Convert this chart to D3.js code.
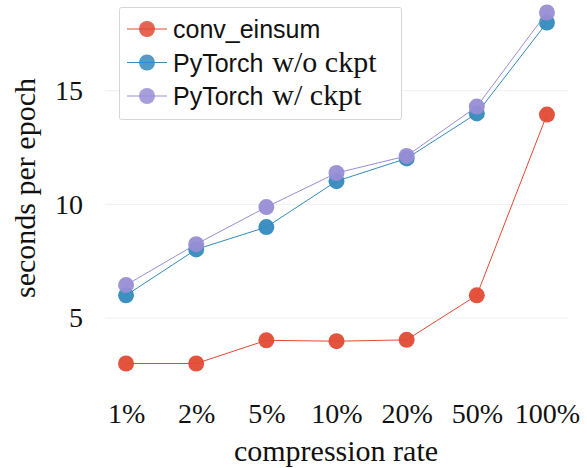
<!DOCTYPE html>
<html>
<head>
<script src="https://d3js.org/d3.v7.min.js"></script>
<style>
  body { margin: 0; background: #fff; }
</style>
</head>
<body>
<div id="chart"></div>
<script>
// data
var rates = ["1%", "2%", "5%", "10%", "20%", "50%", "100%"];
var convEinsum = [3.0, 3.0, 4.02, 3.98, 4.04, 6.0, 13.95];
var torchNoCkpt = [6.0, 8.02, 9.0, 11.02, 12.02, 14.0, 18.0];
var torchCkpt = [6.45, 8.25, 9.88, 11.38, 12.13, 14.3, 18.44];
var yTicks = [5, 10, 15];

var series = [
  {sans: "conv_einsum", serif: "", values: convEinsum, color: "#E24A33"},
  {sans: "PyTorch", serif: "w/o ckpt", values: torchNoCkpt, color: "#348ABD"},
  {sans: "PyTorch", serif: "w/ ckpt", values: torchCkpt, color: "#988ED5"}
];

var width = 587, height = 468;
var serifFont = "'Liberation Serif', 'DejaVu Serif', serif";
var sansFont = "'Liberation Sans', 'DejaVu Sans', sans-serif";

var svg = d3.select("#chart").append("svg")
    .attr("width", width)
    .attr("height", height);

var x = d3.scaleLinear()
    .domain([-0.3, rates.length - 0.7])
    .range([105, 568]);

var y = d3.scaleLinear()
    .domain([2.23, 19.21])
    .range([381, -5]);

// grid
svg.append("g")
  .selectAll("line")
  .data(yTicks)
  .enter().append("line")
    .attr("x1", x.range()[0])
    .attr("x2", x.range()[1])
    .attr("y1", function(d) { return y(d); })
    .attr("y2", function(d) { return y(d); })
    .attr("stroke", "#efefef")
    .attr("stroke-width", 1);

// y axis
var yAxis = svg.append("g")
    .attr("transform", "translate(" + x.range()[0] + ",0)")
    .call(d3.axisLeft(y).tickValues(yTicks).tickSize(0).tickPadding(22));
yAxis.select(".domain").remove();
yAxis.selectAll("text")
    .style("font-family", serifFont)
    .style("font-size", "28px")
    .attr("fill", "#111");

// x axis
var xAxis = svg.append("g")
    .attr("transform", "translate(0,381)")
    .call(d3.axisBottom(x).tickValues(d3.range(rates.length))
      .tickFormat(function(i) { return rates[i]; })
      .tickSize(0).tickPadding(22));
xAxis.select(".domain").remove();
xAxis.selectAll("text")
    .style("font-family", serifFont)
    .style("font-size", "28px")
    .attr("fill", "#111");

// axis labels
svg.append("text")
    .attr("x", 336)
    .attr("y", 461)
    .attr("text-anchor", "middle")
    .style("font-family", serifFont)
    .style("font-size", "30px")
    .attr("fill", "#111")
    .text("compression rate");

svg.append("text")
    .attr("transform", "translate(35,188) rotate(-90)")
    .attr("text-anchor", "middle")
    .style("font-family", serifFont)
    .style("font-size", "30px")
    .attr("fill", "#111")
    .text("seconds per epoch");

// lines and markers
var line = d3.line()
    .x(function(d, i) { return x(i); })
    .y(function(d) { return y(d); });

series.forEach(function(s) {
  var g = svg.append("g");
  g.append("path")
      .datum(s.values)
      .attr("d", line)
      .attr("fill", "none")
      .attr("stroke", s.color)
      .attr("stroke-width", 1);
  g.selectAll("circle")
      .data(s.values)
      .enter().append("circle")
      .attr("cx", function(d, i) { return x(i); })
      .attr("cy", function(d) { return y(d); })
      .attr("r", 8)
      .attr("fill", s.color)
      .attr("fill-opacity", 0.95);
});

// legend
var legend = svg.append("g").attr("transform", "translate(119,7)");
legend.append("rect")
    .attr("x", 0.5).attr("y", 0.5)
    .attr("width", 282).attr("height", 112)
    .attr("rx", 2)
    .attr("fill", "#fff")
    .attr("fill-opacity", 0.9)
    .attr("stroke", "#d6d6d6");

var rows = legend.selectAll("g.row")
    .data(series)
    .enter().append("g")
    .attr("class", "row")
    .attr("transform", function(d, i) { return "translate(0," + (22 + i * 33.5) + ")"; });

rows.append("line")
    .attr("x1", 8).attr("x2", 48)
    .attr("stroke", function(d) { return d.color; })
    .attr("stroke-width", 1);
rows.append("circle")
    .attr("cx", 28).attr("r", 8)
    .attr("fill", function(d) { return d.color; })
    .attr("fill-opacity", 0.85);

rows.each(function(d) {
  var row = d3.select(this);
  var t1 = row.append("text")
      .attr("x", 54)
      .attr("y", 9)
      .attr("fill", "#111")
      .style("font-family", sansFont)
      .style("font-size", "25px")
      .text(d.sans);
  if (d.serif) {
    var w = t1.node().getComputedTextLength();
    row.append("text")
        .attr("x", 54 + w + 9)
        .attr("y", 9)
        .attr("fill", "#111")
        .style("font-family", serifFont)
        .style("font-size", "30px")
        .text(d.serif);
  }
});
</script>
</body>
</html>
